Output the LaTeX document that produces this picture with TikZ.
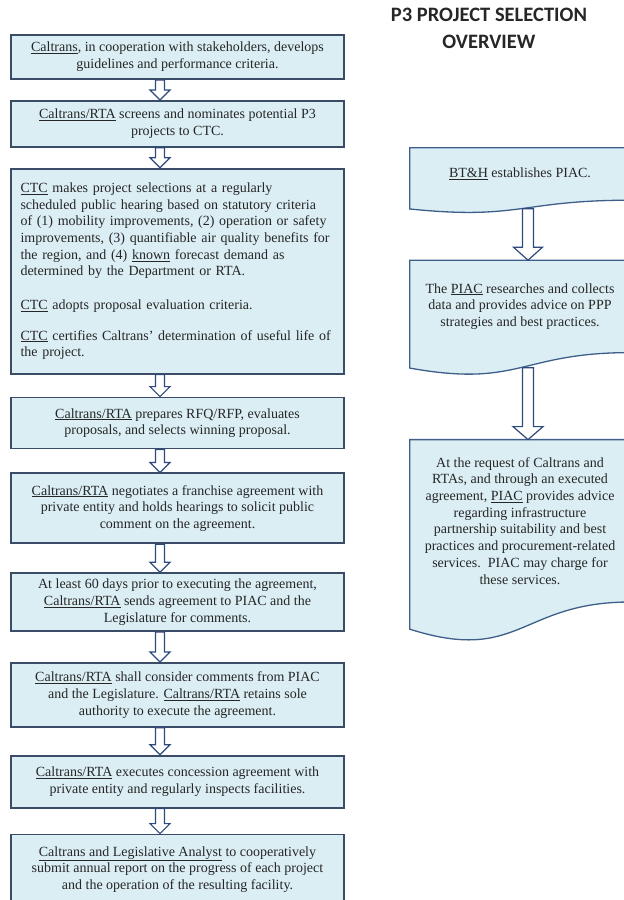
\documentclass[tikz,border=0pt]{standalone}
\usepackage{fontspec}
\setmainfont{Liberation Serif}
\newfontfamily\titlefont{Carlito}
\usepackage{tikz}
\usetikzlibrary{positioning,calc,backgrounds}
\definecolor{boxfill}{HTML}{DBEEF4}
\definecolor{boxline}{HTML}{3B4D66}
\definecolor{docline}{HTML}{3E5F8A}
\definecolor{arrowline}{HTML}{2E4A7D}
\definecolor{textink}{HTML}{262626}

\newcommand{\actor}[1]{\underline{#1}}
% hollow block arrow: from, to, shaft half width, head half width, head length
\newcommand{\hollowdown}[5]{%
  \draw[blockarrow] let \p1=(#1), \p2=(#2) in
    (\x1-#3,\y1) -- (\x1-#3,\y2+#5) -- (\x1-#4,\y2+#5) -- (\x1,\y2)
    -- (\x1+#4,\y2+#5) -- (\x1+#3,\y2+#5) -- (\x1+#3,\y1) -- cycle;}
% document outline with wavy bottom round a node
\newcommand{\docwave}[1]{%
  \begin{scope}[on background layer]
  \draw[docshape] let \p1=(#1.north west), \p2=(#1.south east), \n1={\y1-\y2} in
    (\p1) -- (\x2,\y1) -- (\p2)
    .. controls ({(\x1+\x2)/2},\y2) and ({(\x1+\x2)/2},{\y2-0.3825*\n1}) .. (\x1,{\y2-0.1675*\n1}) -- cycle
    ({(\x1+\x2)/2},{\y2-0.164*\n1}) coordinate (#1-wave);
  \end{scope}}

\begin{document}
\begin{tikzpicture}[x=1pt,y=-1pt,
  stepbox/.style={draw=boxline,line width=1.8pt,fill=boxfill,minimum width=333pt,
    inner sep=0pt,align=center,text=textink,font=\fontsize{14}{16.7}\selectfont},
  docnode/.style={minimum width=220pt,inner sep=0pt,align=center,text=textink,
    font=\fontsize{14}{16.7}\selectfont},
  docshape/.style={draw=docline,line width=1.3pt,fill=boxfill},
  blockarrow/.style={draw=arrowline,line width=1.2pt,fill=white,line join=miter}
]
\useasboundingbox (0,0) rectangle (624,900);
\clip (0,0) rectangle (624,900);

\node[font=\titlefont\bfseries\fontsize{20.5}{27}\selectfont,align=center,text=black!85] (title) at (489,28.5) {P3 PROJECT SELECTION\\OVERVIEW};

% left column
\node[stepbox,minimum height=44.2pt] (guide) at (177.5,57) {\actor{Caltrans}, in cooperation with stakeholders, develops\\guidelines and performance criteria.};
\node[stepbox,minimum height=46pt,below=20pt of guide] (screen) {\actor{Caltrans/RTA} screens and nominates potential P3\\projects to CTC.};
\node[stepbox,minimum height=205pt,below=20pt of screen,text width=314pt,align=left] (select) {\actor{CTC} makes project selections at a regularly\\scheduled public hearing based on statutory criteria\\of (1) mobility improvements, (2) operation or safety\\improvements, (3) quantifiable air quality benefits for\\the region, and (4) \actor{known} forecast demand as\\determined by the Department or RTA.\\[16.7pt]\actor{CTC} adopts proposal evaluation criteria.\\[14pt]\actor{CTC} certifies Caltrans' determination of useful life of\\the project.};
\node[stepbox,minimum height=51pt,below=22pt of select] (rfp) {\actor{Caltrans/RTA} prepares RFQ/RFP, evaluates\\proposals, and selects winning proposal.};
\node[stepbox,minimum height=70pt,below=23pt of rfp] (negotiate) {\actor{Caltrans/RTA} negotiates a franchise agreement with\\private entity and holds hearings to solicit public\\comment on the agreement.};
\node[stepbox,minimum height=58pt,below=28pt of negotiate] (notify) {At least 60 days prior to executing the agreement,\\\actor{Caltrans/RTA} sends agreement to PIAC and the\\Legislature for comments.};
\node[stepbox,minimum height=64pt,below=30pt of notify] (consider) {\actor{Caltrans/RTA} shall consider comments from PIAC\\and the Legislature. \actor{Caltrans/RTA} retains sole\\authority to execute the agreement.};
\node[stepbox,minimum height=52pt,below=27pt of consider] (execute) {\actor{Caltrans/RTA} executes concession agreement with\\private entity and regularly inspects facilities.};
\node[stepbox,minimum height=70pt,below=25pt of execute] (report) {\actor{Caltrans and Legislative Analyst} to cooperatively\\submit annual report on the progress of each project\\and the operation of the resulting facility.};

% right column
\node[docnode,minimum height=52pt] (establish) at (520,174) {\actor{BT\&H} establishes PIAC.};
\node[docnode,minimum height=92pt,below=60pt of establish] (research) {The \actor{PIAC} researches and collects\\data and provides advice on PPP\\strategies and best practices.};
\node[docnode,minimum height=162pt,below=87pt of research] (advise) {At the request of Caltrans and\\RTAs, and through an executed\\agreement, \actor{PIAC} provides advice\\regarding infrastructure\\partnership suitability and best\\practices and procurement-related\\services.\ \ PIAC may charge for\\these services.};
\docwave{establish}
\docwave{research}
\docwave{advise}

% arrows
\foreach \a/\b in {guide/screen,screen/select,select/rfp,rfp/negotiate,negotiate/notify,notify/consider,consider/execute,execute/report}{
  \hollowdown{160,0 |- \a.south}{160,0 |- \b.north}{4.5pt}{10pt}{10pt}
}
\hollowdown{528,0 |- establish-wave}{528,0 |- research.north}{5.5pt}{14.5pt}{13pt}
\hollowdown{528,0 |- research-wave}{528,0 |- advise.north}{5.5pt}{15pt}{13pt}
\end{tikzpicture}
\end{document}
